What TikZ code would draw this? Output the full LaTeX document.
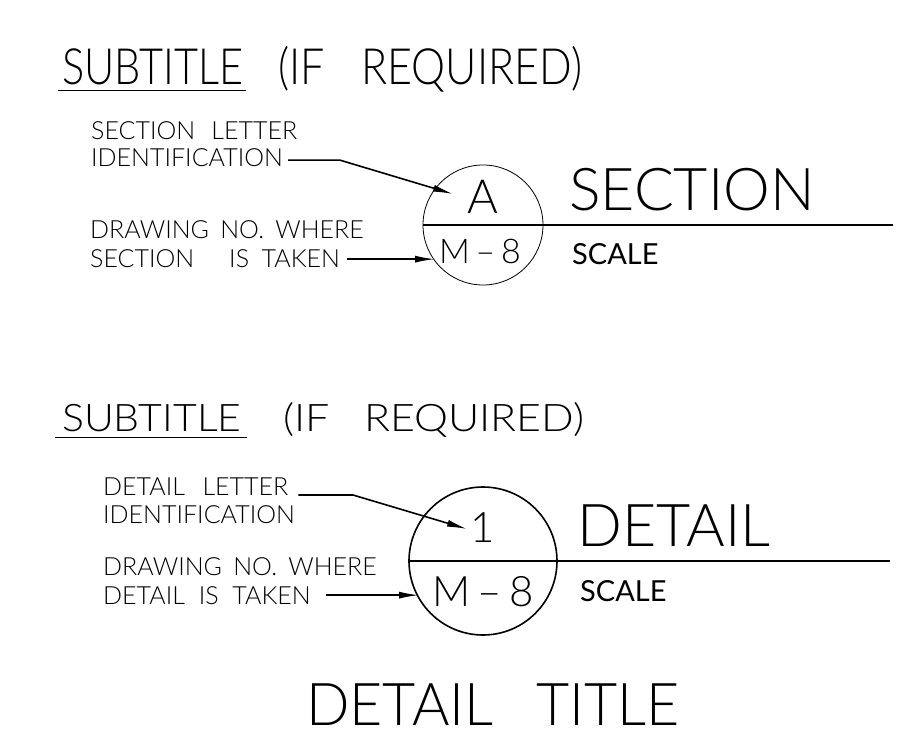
\documentclass[tikz,border=0pt]{standalone}
\usepackage{fontspec}
\setmainfont{Lato Light}
\newfontfamily\sclfont{Lato}
\usetikzlibrary{arrows.meta}

\begin{document}
\begin{tikzpicture}[x=1pt,y=-1pt]
\tikzstyle{txt}=[inner sep=0pt,anchor=base west]
\tikzstyle{note}=[txt,font=\fontsize{25}{25}\selectfont]
\tikzstyle{subt}=[txt,font=\fontsize{50}{50}\selectfont]
\tikzstyle{subtb}=[txt,font=\fontsize{38}{38}\selectfont]
\tikzstyle{ttl}=[txt,font=\fontsize{59}{59}\selectfont]
\tikzstyle{scl}=[txt,font=\sclfont\fontsize{29}{29}\selectfont]
\tikzstyle{ldr}=[draw=black,line width=1.6pt,-{Latex[length=20pt,width=7pt]}]
\tikzstyle{rule}=[draw=black,line width=1.5pt]
\useasboundingbox (0,0) rectangle (900,738);
% section marker
\node [subt] (s1) at (62,85) {\scalebox{0.83}[1]{SUBTITLE}};
\node [subt] (r1) at (278,85) {\scalebox{0.86}[1]{(IF\hspace{0.85em}REQUIRED)}};
\draw [rule] ([xshift=-4pt,yshift=-5pt]s1.south west) -- ([xshift=2pt,yshift=-5pt]s1.south east);
\node [note] (a1) at (91,140) {SECTION\hspace{0.65em}LETTER};
\node [note] (a2) at (91,167) {IDENTIFICATION};
\node [note] (b1) at (90,239) {DRAWING\hspace{0.45em}NO.\hspace{0.45em}WHERE};
\node [note] (b2) at (90,268) {SECTION\hspace{1.4em}IS\hspace{0.5em}TAKEN};
\node [draw=black,circle,line width=0.8pt,minimum size=120pt,inner sep=0pt] (ca) at (483,225) {};
\node [txt,anchor=base,font=\fontsize{47}{47}\selectfont] (la) at (483,214) {A};
\node [txt,anchor=base,font=\fontsize{34}{34}\selectfont] (na) at (480,264) {M\,–\,8};
\node [ttl] (ta) at (569,211) {SECTION};
\node [scl] (sa) at (572,265) {SCALE};
\coordinate (ea) at (893,225);
\coordinate (ka) at (340,160);
\coordinate (pa) at (453,194);
\coordinate (qa) at (435,262);
\draw [rule] (ca.west) -- (ea);
\draw [ldr] ([xshift=5pt,yshift=-2pt]a2.east) -- ([yshift=-2pt]ka |- a2.east) -- (pa);
\draw [ldr] ([xshift=7pt]b2.east) -- (qa |- b2.east);
% detail marker
\node [subtb] (s2) at (62,431) {\scalebox{1.08}[1]{SUBTITLE}};
\node [subtb] (r2) at (283,431) {\scalebox{1.13}[1]{(IF\hspace{0.8em}REQUIRED)}};
\draw [rule] ([xshift=-7pt,yshift=-6pt]s2.south west) -- ([xshift=5pt,yshift=-6pt]s2.south east);
\node [note] (c1) at (103,495) {DETAIL\hspace{0.7em}LETTER};
\node [note] (c2) at (103,523) {IDENTIFICATION};
\node [note] (d1) at (103,575) {DRAWING\hspace{0.45em}NO.\hspace{0.45em}WHERE};
\node [note] (d2) at (103,604) {DETAIL\hspace{0.55em}IS\hspace{0.55em}TAKEN};
\node [draw=black,circle,line width=1.6pt,minimum size=148pt,inner sep=0pt] (cb) at (483,561) {};
\node [txt,anchor=base,font=\fontsize{42}{42}\selectfont] (lb) at (483,542) {1};
\node [txt,anchor=base,font=\fontsize{42}{42}\selectfont] (nb) at (483,606) {M\,–\,8};
\node [ttl] (tb) at (577,546) {DETAIL};
\node [scl] (sb) at (580,601) {SCALE};
\node [ttl] (tt) at (306,725) {\scalebox{0.97}[1]{DETAIL\hspace{0.75em}TITLE}};
\coordinate (eb) at (890,561);
\coordinate (kb) at (353,495);
\coordinate (pb) at (467,529);
\coordinate (qb) at (419,598);
\draw [rule] (cb.west) -- (eb);
\draw [ldr] ([xshift=10pt]c1.base east) -- (kb |- c1.base east) -- (pb);
\draw [ldr] ([xshift=15pt]d2.east) -- (qb |- d2.east);
\end{tikzpicture}
\end{document}
